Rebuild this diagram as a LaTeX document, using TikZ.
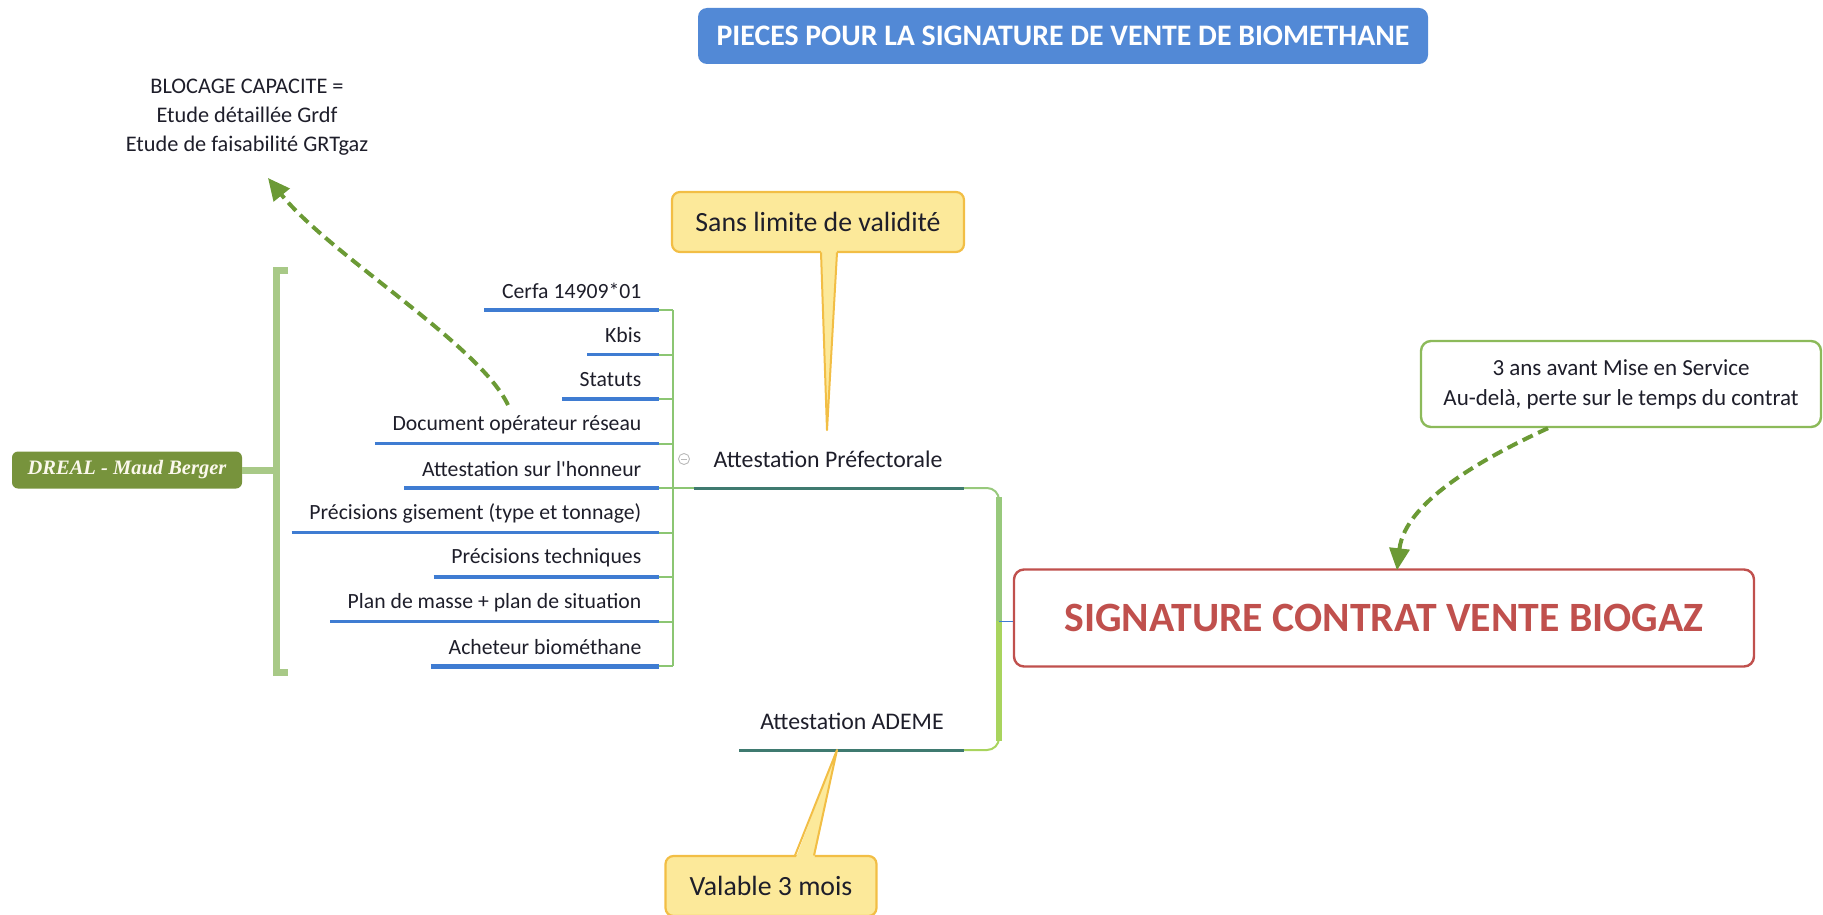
\documentclass[tikz,border=0pt]{standalone}
\usepackage{fontspec}
\setmainfont{Carlito}[Ligatures=TeXOff]
\newfontfamily\serifit{Liberation Serif}
\usetikzlibrary{arrows.meta,calc}
\definecolor{titleblue}{HTML}{5289D6}
\definecolor{txt}{HTML}{1E1E2A}
\definecolor{sigred}{HTML}{C0504D}
\definecolor{yfill}{HTML}{FCE99A}
\definecolor{ydraw}{HTML}{F2BE45}
\definecolor{notegreen}{HTML}{8CBA5A}
\definecolor{dashgreen}{HTML}{6B9A35}
\definecolor{drealgreen}{HTML}{77933C}
\definecolor{drealtext}{HTML}{FBF8EC}
\definecolor{brkgreen}{HTML}{A8C987}
\definecolor{stemgreen}{HTML}{8CC673}
\definecolor{lineblue}{HTML}{3F7CD2}
\definecolor{tealline}{HTML}{3F7A70}
\definecolor{brgreenA}{HTML}{98C97C}
\definecolor{brgreenB}{HTML}{A9D45E}
\newcommand{\fs}[2]{\fontsize{#1}{#2}\selectfont}
\tikzset{
  titlebox/.style={fill=titleblue, rounded corners=9pt, minimum width=730pt, minimum height=56pt, text=white, font=\fs{29.8}{34}\bfseries},
  itemtxt/.style={text=txt, font=\fs{21.7}{25}, inner xsep=17.5pt, inner ysep=0pt, anchor=east},
  itemline/.style={lineblue, line width=3.2pt},
  stub/.style={stemgreen, line width=2pt},
  sigbox/.style={draw=sigred, line width=2.4pt, fill=white, rounded corners=10pt, minimum width=740pt, minimum height=97pt, text=sigred, font=\fs{41.7}{48}\bfseries},
  notebox/.style={draw=notegreen, line width=2.4pt, fill=white, rounded corners=10pt, minimum width=400pt, minimum height=86pt, text=txt, align=center, font=\fs{23}{30}},
  yellowbox/.style={draw=ydraw, line width=2.2pt, fill=yfill, rounded corners=8pt, text=txt, font=\fs{27.8}{32}},
  dasharrow/.style={dashgreen, line width=4pt, dash pattern=on 11pt off 6pt, -{Triangle[length=22pt,width=20pt]}},
  drealbox/.style={fill=drealgreen, rounded corners=6pt, minimum width=230pt, minimum height=37pt, text=drealtext, font=\serifit\bfseries\itshape\fs{20.5}{24}},
  brk/.style={brkgreen, line width=7pt},
  plain/.style={text=txt, font=\fs{22.3}{29}, align=center},
  attest/.style={text=txt, font=\fs{23.8}{28}}
}
\begin{document}
\begin{tikzpicture}[x=1pt,y=-1pt]
\useasboundingbox (0,0) rectangle (1823,915);

% title
\node[titlebox] (title) at (1063,36) {PIECES POUR LA SIGNATURE DE VENTE DE BIOMETHANE};

% blocage
\node[plain] (bloc) at (247,117) {BLOCAGE CAPACITE =\\Etude détaillée Grdf\\Etude de faisabilité GRTgaz};

% DREAL and bracket
\node[drealbox] (dreal) at (127,470) {DREAL - Maud Berger};
\coordinate (bt) at (288,270);
\coordinate (bb) at (288,672);
\coordinate (bm) at (276,470);
\draw[brk] (bt) -- (276,270) -- (276,672) -- (bb);
\draw[brk] (dreal.east) -- (bm);

% items
\foreach \t [count=\k] in {Cerfa 14909*01, Kbis, Statuts, Document opérateur réseau, Attestation sur l'honneur, Précisions gisement (type et tonnage), Précisions techniques, Plan de masse + plan de situation, Acheteur biométhane}{
  \pgfmathsetmacro{\yy}{310+(\k-1)*44.5}
  \coordinate (u\k) at (659,\yy);
  \coordinate (s\k) at (673,\yy);
  \node[itemtxt] (it\k) at (659,\yy-19) {\t};
  \draw[itemline] (it\k.west |- u\k) -- (u\k);
  \draw[stub] (u\k) -- (s\k);
}
\draw[lineblue, line width=5pt] (it9.west |- u9) -- (u9);
\draw[stub] (s1) -- (s9);

% collapse symbol
\coordinate (cs) at (684,459);
\draw[gray!55, line width=0.9pt] (cs) circle (5.5);
\draw[gray!55, line width=0.9pt] ($(cs)+(-3,0)$) -- ($(cs)+(3,0)$);

% attestation prefectorale
\node[attest] (pref) at (828,459) {Attestation Préfectorale};
\coordinate (pl) at (694,488);
\coordinate (pr) at (964,488);
\draw[stub] (s5) -- (pl);
\draw[tealline, line width=3pt] (pl) -- (pr);

% attestation ademe
\node[attest] (ademe) at (852,721) {Attestation ADEME};
\coordinate (al) at (739,750);
\coordinate (ar) at (964,750);
\draw[tealline, line width=3pt] (al) -- (ar);

% right bracket
\coordinate (rm) at (999,621);
\draw[brgreenA, line width=2pt, rounded corners=12pt] (pr) -- (999,488) -- (rm);
\draw[brgreenB, line width=2pt, rounded corners=12pt] (rm) -- (999,750) -- (ar);
\draw[brgreenA, line width=6pt] (999,497) -- (rm);
\draw[brgreenB, line width=6pt] (rm) -- (999,741);

% signature
\node[sigbox] (sig) at (1384,618) {SIGNATURE CONTRAT VENTE BIOGAZ};
\draw[lineblue, line width=0.8pt] (rm) -- (sig.west |- rm);

% note
\node[notebox] (note) at (1621,384) {3 ans avant Mise en Service\\Au-delà, perte sur le temps du contrat};
\draw[dasharrow] ($(note.south)+(-73,0)$) .. controls (1490,455) and (1405,500) .. ($(sig.north)+(13,2)$);

% dashed arrow to blocage
\coordinate (a1s) at (508,405);
\coordinate (a1e) at (268,178);
\draw[dasharrow] (a1s) .. controls (480,345) and (330,255) .. (a1e);

% yellow callout 1
\node[yellowbox, minimum width=292pt, minimum height=60pt] (sans) at (818,222) {Sans limite de validité};
\coordinate (sp) at (827,430);
\fill[yfill] (821,248) -- (sp) -- (837,248) -- cycle;
\draw[ydraw, line width=2pt, line join=round] (821,252.5) -- (sp) -- (837,252.5);

% yellow callout 2
\node[yellowbox, minimum width=211pt, minimum height=60pt] (val) at (771,886) {Valable 3 mois};
\coordinate (vp) at (837,750);
\fill[yfill] (795,860) -- (vp) -- (814,860) -- cycle;
\draw[ydraw, line width=2pt, line join=round] (795,855.5) -- (vp) -- (814,855.5);
\end{tikzpicture}
\end{document}
